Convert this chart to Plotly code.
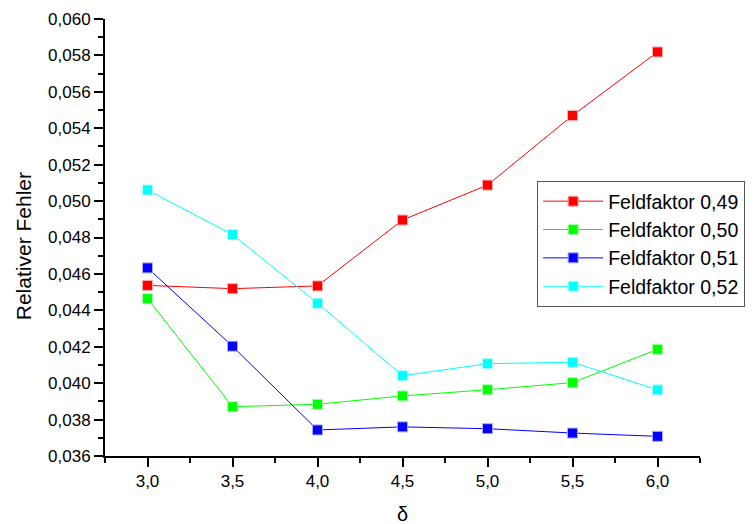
import plotly.graph_objects as go

delta = [3.0, 3.5, 4.0, 4.5, 5.0, 5.5, 6.0]
f049 = [0.04537, 0.04519, 0.04534, 0.04896, 0.05088, 0.05470, 0.05819]
f050 = [0.04464, 0.03871, 0.03884, 0.03930, 0.03964, 0.04003, 0.04186]
f051 = [0.04633, 0.04203, 0.03743, 0.03760, 0.03750, 0.03726, 0.03708]
f052 = [0.05061, 0.04816, 0.04439, 0.04041, 0.04107, 0.04115, 0.03963]

names = ["Feldfaktor 0,49", "Feldfaktor 0,50", "Feldfaktor 0,51", "Feldfaktor 0,52"]
series = [f049, f050, f051, f052]
colors = ["#ff0000", "#00ff00", "#0000ff", "#00ffff"]
edges = ["#ffaaaa", "#aaffaa", "#aaaaff", "#aaffff"]

fig = go.Figure()
for n, s, c, e in zip(names, series, colors, edges):
    fig.add_trace(go.Scatter(
        x=delta, y=s, name=n, mode="lines+markers",
        line=dict(color=c, width=1),
        marker=dict(symbol="square", size=10, color=c, line=dict(color=e, width=1)),
    ))

font_family = "Liberation Sans, Arial, sans-serif"
fig.update_layout(
    width=748, height=516,
    margin=dict(l=96.5, r=56, t=11, b=68),
    paper_bgcolor="white", plot_bgcolor="white",
    separators=",.",
    font=dict(family=font_family, size=17, color="black"),
    showlegend=True,
    legend=dict(
        x=0.7263, y=0.6293, xanchor="left", yanchor="top",
        bordercolor="#555555", borderwidth=1, bgcolor="white",
        font=dict(size=19.5), itemwidth=60,
    ),
    xaxis=dict(
        range=[2.75, 6.25], tick0=3.0, dtick=0.5, tickformat=".1f",
        automargin=False,
        showline=True, linecolor="black", linewidth=2,
        ticks="outside", ticklen=9, tickwidth=2, tickcolor="black",
        showgrid=False, zeroline=False,
        minor=dict(dtick=0.25, tick0=2.75, ticks="outside", ticklen=5, tickwidth=2, tickcolor="black", showgrid=False),
        tickfont=dict(size=17),
    ),
    yaxis=dict(
        range=[0.036, 0.060], tick0=0.036, dtick=0.002, tickformat=".3f",
        automargin=False,
        showline=True, linecolor="black", linewidth=2,
        ticks="outside", ticklen=9, tickwidth=2, tickcolor="black",
        showgrid=False, zeroline=False,
        minor=dict(dtick=0.001, ticks="outside", ticklen=5, tickwidth=2, tickcolor="black", showgrid=False),
        tickfont=dict(size=17),
    ),
    annotations=[
        dict(text="δ", xref="paper", yref="paper", x=0.5, y=-0.133,
             xanchor="center", yanchor="middle", showarrow=False, font=dict(size=20)),
        dict(text="Relativer Fehler", xref="paper", yref="paper", x=-0.1369, y=0.479,
             xanchor="center", yanchor="middle", textangle=-90, showarrow=False, font=dict(size=21)),
    ],
)

fig.write_html("out.html")
